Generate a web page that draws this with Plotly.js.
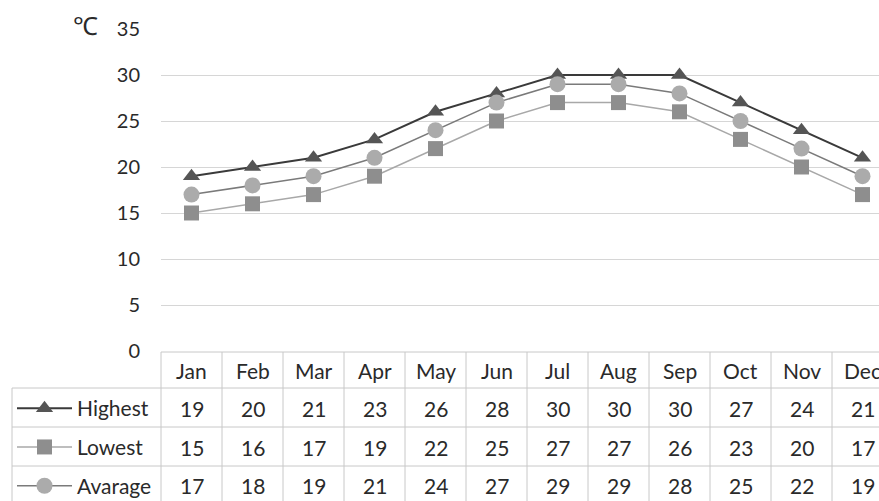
<!DOCTYPE html>
<html>
<head>
<meta charset="utf-8">
<script src="https://cdn.plot.ly/plotly-3.0.1.min.js"></script>
<style>
html,body{margin:0;padding:0;overflow:hidden;background:#fff;}
#chart{width:879px;height:501px;}
</style>
</head>
<body>
<div id="chart"></div>
<script>
var months = ['Jan','Feb','Mar','Apr','May','Jun','Jul','Aug','Sep','Oct','Nov','Dec'];
var seriesNames = ['Highest','Lowest','Avarage'];
var highest = [19,20,21,23,26,28,30,30,30,27,24,21];
var lowest  = [15,16,17,19,22,25,27,27,26,23,20,17];
var average = [17,18,19,21,24,27,29,29,28,25,22,19];
var yTicks = [0,5,10,15,20,25,30,35];
var unitLabel = '℃';

var FONT = 'Lato, "Noto Sans", sans-serif';
var W = 879, H = 501;
var mL = 161, mT = 29, mB = 150;
var plotW = W - mL, plotH = H - mT - mB;
var colW = 61;
var xr = [-0.5, -0.5 + plotW / colW];

function py(p){ return (H - mB - p) / plotH; }   // pixel y -> paper
function px(p){ return (p - mL) / plotW; }       // pixel x -> paper

var allSeries = [highest, lowest, average];
var styles = [
  {line:{color:'#3a3a3a', width:2}, marker:{symbol:'triangle-up', size:15, color:'#555555'}},
  {line:{color:'#a8a8a8', width:1.5}, marker:{symbol:'square', size:15, color:'#8e8e8e'}},
  {line:{color:'#7a7a7a', width:1.5}, marker:{symbol:'circle', size:16, color:'#ababab'}}
];

var traces = allSeries.map(function(vals, i){
  return {
    type:'scatter', mode:'lines+markers',
    x: months, y: vals, name: seriesNames[i],
    legendgroup: 'g' + i,
    line: styles[i].line, marker: styles[i].marker,
    cliponaxis: false
  };
});

// table structure
var shapes = [];
var lineCol = '#c8c8c8';
var rowYs = [352, 388, 427, 466, 505];
var nVisibleCols = months.length;
var rightPaper = px(mL + colW * 12);
shapes.push({type:'line', xref:'paper', yref:'paper', x0:0, x1:rightPaper, y0:py(rowYs[0]), y1:py(rowYs[0]), line:{color:lineCol, width:1}});
for (var r = 1; r < rowYs.length; r++) {
  shapes.push({type:'line', xref:'paper', yref:'paper', x0:px(12), x1:rightPaper, y0:py(rowYs[r]), y1:py(rowYs[r]), line:{color:lineCol, width:1}});
}
shapes.push({type:'line', xref:'paper', yref:'paper', x0:px(12), x1:px(12), y0:py(rowYs[1]), y1:py(rowYs[4]), line:{color:lineCol, width:1}});
for (var k = 0; k <= nVisibleCols; k++) {
  var xp = px(mL + colW * k);
  shapes.push({type:'line', xref:'paper', yref:'paper', x0:xp, x1:xp, y0:py(rowYs[0]), y1:py(rowYs[4]), line:{color:lineCol, width:1}});
}

var annotations = [];
var textCol = '#2a2a2a';
var tableFont = {family: FONT, size: 21, color: textCol};
months.forEach(function(m, i){
  annotations.push({xref:'x', yref:'paper', x:m, y:py(370), text:m, showarrow:false, font:tableFont, xanchor:'center', yanchor:'middle'});
});
var rowCenters = [408, 447, 485];
allSeries.forEach(function(vals, r){
  vals.forEach(function(v, i){
    annotations.push({xref:'x', yref:'paper', x:months[i], y:py(rowCenters[r]), text:String(v), showarrow:false, font:tableFont, xanchor:'center', yanchor:'middle'});
  });
});
annotations.push({xref:'paper', yref:'paper', x:px(85), y:py(25), text:unitLabel, showarrow:false, font:{family:FONT, size:25, color:textCol}, xanchor:'center', yanchor:'middle'});

var layout = {
  width: W, height: H,
  margin: {l: mL, r: 0, t: mT, b: mB, pad: 0, autoexpand: false},
  paper_bgcolor: '#fff', plot_bgcolor: '#fff',
  font: {family: FONT, color: textCol},
  showlegend: true,
  legend: {
    x: px(12), xanchor: 'left', y: py(388), yanchor: 'top',
    font: {family: FONT, size: 21, color: textCol},
    itemwidth: 55, tracegroupgap: 8.5, bgcolor: 'rgba(0,0,0,0)', borderwidth: 0,
    itemclick: false
  },
  xaxis: {
    type: 'category', range: xr, showticklabels: false, showgrid: false,
    zeroline: false, showline: false, ticks: '', fixedrange: true, automargin: false
  },
  yaxis: {
    range: [0, 35], tickvals: yTicks, ticktext: yTicks.map(String),
    showgrid: true, gridcolor: '#d6d6d6', gridwidth: 1,
    zeroline: false, showline: false, ticks: '',
    ticklabelstandoff: 20, automargin: false,
    tickfont: {family: FONT, size: 20, color: textCol}, fixedrange: true
  },
  shapes: shapes,
  annotations: annotations
};

Plotly.newPlot('chart', traces, layout, {displayModeBar: false, staticPlot: true});
</script>
</body>
</html>
